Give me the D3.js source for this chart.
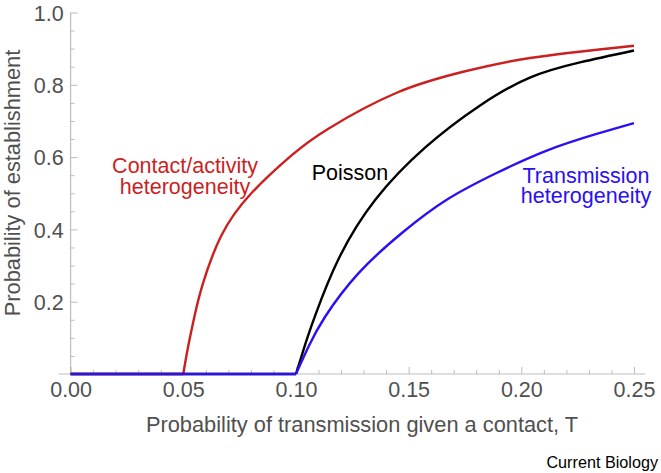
<!DOCTYPE html>
<html>
<head>
<meta charset="utf-8">
<script src="https://cdn.jsdelivr.net/npm/d3@7"></script>
<style>
  html, body { margin: 0; padding: 0; background: #fff; }
  svg { display: block; font-family: "Liberation Sans", Arial, Helvetica, sans-serif; }
</style>
</head>
<body>
<svg id="chart" width="661" height="473"></svg>
<script>
// ---- Data ----
const xTicks = [0, 0.05, 0.10, 0.15, 0.20, 0.25];
const yTicks = [0.2, 0.4, 0.6, 0.8, 1.0];

const tContact = [0, 0.05, 0.0521, 0.0551, 0.0587, 0.0669, 0.0802, 0.0979, 0.1142, 0.1447, 0.1742, 0.2038, 0.25];
const pContact = [0, 0, 0.074, 0.163, 0.250, 0.383, 0.500, 0.604, 0.678, 0.778, 0.836, 0.874, 0.908];

const tPoisson = [0, 0.1, 0.1041, 0.1086, 0.1189, 0.1352, 0.1574, 0.1817, 0.2038, 0.2260, 0.25];
const pPoisson = [0, 0, 0.082, 0.163, 0.318, 0.482, 0.627, 0.743, 0.820, 0.862, 0.895];

const tTrans = [0, 0.1, 0.1056, 0.1130, 0.1278, 0.1470, 0.1669, 0.1890, 0.2113, 0.2334, 0.25];
const pTrans = [0, 0, 0.076, 0.159, 0.279, 0.390, 0.482, 0.556, 0.618, 0.664, 0.694];

const seriesNames = ["Contact/activity heterogeneity", "Poisson", "Transmission heterogeneity"];

// ---- Layout ----
const svg = d3.select("#chart");
const x = d3.scaleLinear().domain([0, 0.25]).range([70.6, 634]);
const y = d3.scaleLinear().domain([0, 1]).range([374, 12.5]);

const axisColor = "#bdbdbd";
const textColor = "#505050";
const red = "#cc1f1f", blue = "#2a10f2", black = "#000000";

// axis lines
svg.append("line").attr("x1", x(0) - 12).attr("x2", x(0.25) + 11)
  .attr("y1", y(0)).attr("y2", y(0)).attr("stroke", axisColor).attr("stroke-width", 1.2);
svg.append("line").attr("x1", x(0)).attr("x2", x(0))
  .attr("y1", y(0)).attr("y2", y(1)).attr("stroke", axisColor).attr("stroke-width", 1.2);

// x minor ticks
const xMinor = d3.range(0, 0.2501, 0.01).filter(v => Math.abs(v / 0.05 - Math.round(v / 0.05)) > 1e-6);
svg.append("g").attr("transform", `translate(0,${y(0)})`)
  .call(d3.axisBottom(x).tickValues(xMinor).tickSize(-4).tickFormat(""))
  .call(g => g.select(".domain").remove())
  .call(g => g.selectAll("line").attr("stroke", axisColor));
// x major ticks
svg.append("g").attr("transform", `translate(0,${y(0)})`)
  .call(d3.axisBottom(x).tickValues(xTicks).tickSize(-7).tickPadding(23).tickFormat(d3.format(".2f")))
  .call(g => g.select(".domain").remove())
  .call(g => g.selectAll("line").attr("stroke", axisColor))
  .call(g => g.selectAll("text").attr("font-size", 21.5).attr("fill", textColor)
      .attr("font-family", "Liberation Sans, Arial, sans-serif").attr("dy", 0));

// y minor ticks
const yMinor = d3.range(0.05, 1.001, 0.05).filter(v => Math.abs(v / 0.2 - Math.round(v / 0.2)) > 1e-6);
svg.append("g").attr("transform", `translate(${x(0)},0)`)
  .call(d3.axisLeft(y).tickValues(yMinor).tickSize(-4).tickFormat(""))
  .call(g => g.select(".domain").remove())
  .call(g => g.selectAll("line").attr("stroke", axisColor));
// y major ticks
svg.append("g").attr("transform", `translate(${x(0)},0)`)
  .call(d3.axisLeft(y).tickValues(yTicks).tickSize(-7).tickPadding(7).tickFormat(d3.format(".1f")))
  .call(g => g.select(".domain").remove())
  .call(g => g.selectAll("line").attr("stroke", axisColor))
  .call(g => g.selectAll("text").attr("font-size", 21.5).attr("fill", textColor)
      .attr("font-family", "Liberation Sans, Arial, sans-serif").attr("dy", "0.36em"));

// axis titles
svg.append("text").attr("x", 362).attr("y", 432).attr("text-anchor", "middle")
  .attr("font-size", 21.8).attr("fill", textColor)
  .text("Probability of transmission given a contact, T");
svg.append("text").attr("transform", "translate(20,183) rotate(-90)").attr("text-anchor", "middle")
  .attr("font-size", 21.8).attr("fill", textColor)
  .text("Probability of establishment");

// curves: flat part (linear) + rising part (smooth spline)
const flatLine = d3.line().x(d => x(d[0])).y(d => y(d[1]));
const riseLine = d3.line().x(d => x(d[0])).y(d => y(d[1])).curve(d3.curveNatural);
const series = [
  { t: tContact, p: pContact, color: red },
  { t: tPoisson, p: pPoisson, color: black },
  { t: tTrans, p: pTrans, color: blue }
];
series.forEach(s => {
  const pts = s.t.map((t, i) => [t, s.p[i]]);
  const k = s.p.findIndex((v, i) => i > 0 && v > 0) - 1; // last zero point (threshold)
  const g = svg.append("g");
  g.append("path").datum(pts.slice(0, k + 1))
    .attr("d", flatLine).attr("fill", "none").attr("stroke", s.color)
    .attr("stroke-width", 2.4);
  g.append("path").datum(pts.slice(k))
    .attr("d", riseLine).attr("fill", "none").attr("stroke", s.color)
    .attr("stroke-width", 2.4).attr("stroke-linejoin", "round");
});

// labels
function label(lines, cx, y0, color, dy) {
  lines.forEach((l, i) => svg.append("text").attr("text-anchor", "middle")
    .attr("font-size", 21.5).attr("fill", color)
    .attr("x", cx).attr("y", y0 + i * dy).text(l));
}
label(["Contact/activity", "heterogeneity"], 185, 173, red, 20.5);
label(["Poisson"], 350, 180, black, 20);
label(["Transmission", "heterogeneity"], 586, 182.5, blue, 20.8);

// source
svg.append("text").attr("x", 658).attr("y", 468).attr("text-anchor", "end")
  .attr("font-size", 16.2).attr("fill", "#000").text("Current Biology");
</script>
</body>
</html>
